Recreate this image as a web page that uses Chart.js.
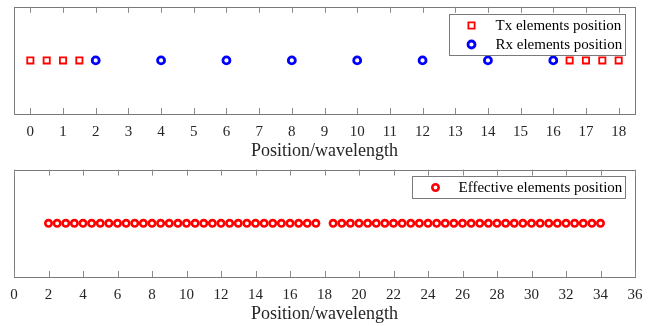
<!DOCTYPE html>
<html>
<head>
<meta charset="utf-8">
<script src="https://cdn.jsdelivr.net/npm/chart.js@4.4.1/dist/chart.umd.min.js"></script>
<style>
  body { margin: 0; background: #fff; }
  .panel { position: absolute; left: 0; width: 656px; height: 163px; }
</style>
</head>
<body>
<div class="panel" style="top:0"><canvas id="arrayChart" width="656" height="163"></canvas></div>
<div class="panel" style="top:163px"><canvas id="effChart" width="656" height="163"></canvas></div>
<script>
// element positions, in wavelengths
const txPos = [0, 0.5, 1, 1.5, 16.5, 17, 17.5, 18];
const rxPos = [2, 4, 6, 8, 10, 12, 14, 16];
const effPos = [2, 2.5, 3, 3.5, 4, 4.5, 5, 5.5, 6, 6.5, 7, 7.5, 8, 8.5, 9, 9.5,
  10, 10.5, 11, 11.5, 12, 12.5, 13, 13.5, 14, 14.5, 15, 15.5, 16, 16.5, 17, 17.5,
  18.5, 19, 19.5, 20, 20.5, 21, 21.5, 22, 22.5, 23, 23.5, 24, 24.5, 25, 25.5,
  26, 26.5, 27, 27.5, 28, 28.5, 29, 29.5, 30, 30.5, 31, 31.5, 32, 32.5, 33, 33.5, 34];
const topTicks = [0, 1, 2, 3, 4, 5, 6, 7, 8, 9, 10, 11, 12, 13, 14, 15, 16, 17, 18];
const bottomTicks = [0, 2, 4, 6, 8, 10, 12, 14, 16, 18, 20, 22, 24, 26, 28, 30, 32, 34, 36];
const xTitle = 'Position/wavelength';

const SERIF = '"Liberation Serif", "Times New Roman", serif';
const TXT = '#262626';

// matlab-like frame, inward ticks and boxed legend
const axesBox = {
  id: 'axesBox',
  afterDatasetsDraw(chart) {
    const ctx = chart.ctx;
    const a = chart.chartArea;
    const xs = chart.scales.x;
    ctx.save();
    ctx.strokeStyle = '#7a7a7a';
    ctx.lineWidth = 1;
    ctx.strokeRect(Math.round(a.left) + 0.5, Math.round(a.top) + 0.5,
      Math.round(a.right - a.left), Math.round(a.bottom - a.top));
    ctx.strokeStyle = '#8a8a8a';
    ctx.beginPath();
    xs.ticks.forEach(t => {
      const px = Math.round(xs.getPixelForValue(t.value)) + 0.5;
      ctx.moveTo(px, a.top); ctx.lineTo(px, a.top + 6);
      ctx.moveTo(px, a.bottom); ctx.lineTo(px, a.bottom - 6);
    });
    ctx.stroke();

    // legend
    const lg = chart.options.plugins.boxLegend;
    const rows = chart.data.datasets;
    const w = lg.width, rowH = lg.rowH;
    const h = rowH * rows.length + lg.pad;
    const x0 = Math.round(a.right - lg.right - w) + 0.5;
    const y0 = Math.round(a.top + lg.top) + 0.5;
    ctx.fillStyle = '#fff';
    ctx.fillRect(x0, y0, w, h);
    ctx.strokeStyle = '#7a7a7a';
    ctx.strokeRect(x0, y0, w, h);
    ctx.font = '15px ' + SERIF;
    ctx.textBaseline = 'middle';
    ctx.textAlign = 'left';
    rows.forEach((ds, i) => {
      const cy = y0 + lg.pad / 2 + rowH * (i + 0.5);
      const mx = x0 + lg.markX;
      ctx.strokeStyle = ds.borderColor;
      ctx.lineWidth = ds.borderWidth;
      ctx.beginPath();
      if (ds.pointStyle === 'rect') {
        const s = ds.pointRadius * Math.SQRT1_2;
        ctx.rect(mx - s, cy - s, 2 * s, 2 * s);
      } else {
        ctx.arc(mx, cy, ds.pointRadius, 0, Math.PI * 2);
      }
      ctx.stroke();
      ctx.fillStyle = '#000';
      ctx.fillText(ds.label, x0 + lg.textX, cy + 1);
    });
    ctx.restore();
  }
};

function makeChart(id, datasets, xmin, xmax, ticks, legendOpts) {
  return new Chart(document.getElementById(id), {
    type: 'scatter',
    data: { datasets: datasets },
    options: {
      responsive: false,
      animation: false,
      layout: { padding: { left: 14, right: 21, top: 6, bottom: 0 } },
      plugins: {
        legend: { display: false },
        tooltip: { enabled: false },
        boxLegend: legendOpts
      },
      scales: {
        y: { display: false, min: -1, max: 1 },
        x: {
          type: 'linear',
          min: xmin,
          max: xmax,
          afterBuildTicks: s => { s.ticks = ticks.map(v => ({ value: v })); },
          afterFit: s => { s.height = 49; },
          grid: { drawOnChartArea: false, drawTicks: false },
          border: { display: false },
          ticks: {
            padding: 9,
            color: TXT,
            maxRotation: 0,
            autoSkip: false,
            font: { family: SERIF, size: 15 }
          },
          title: {
            display: true,
            text: xTitle,
            color: TXT,
            padding: { top: 0, bottom: 1 },
            font: { family: SERIF, size: 18 }
          }
        }
      }
    },
    plugins: [axesBox]
  });
}

const pts = arr => arr.map(v => ({ x: v, y: 0 }));

makeChart('arrayChart', [
  {
    label: 'Tx elements position',
    data: pts(txPos),
    pointStyle: 'rect',
    pointRadius: 4.4,
    borderWidth: 1.8,
    borderColor: '#ff0000',
    backgroundColor: 'rgba(0,0,0,0)'
  },
  {
    label: 'Rx elements position',
    data: pts(rxPos),
    pointStyle: 'circle',
    pointRadius: 3.5,
    borderWidth: 2.8,
    borderColor: '#0000ff',
    backgroundColor: 'rgba(0,0,0,0)'
  }
], -0.5, 18.5, topTicks, { width: 176, rowH: 19, pad: 3, right: 10, top: 7, markX: 22, textX: 46 });

makeChart('effChart', [
  {
    label: 'Effective elements position',
    data: pts(effPos),
    pointStyle: 'circle',
    pointRadius: 3.2,
    borderWidth: 2.6,
    borderColor: '#ff0000',
    backgroundColor: 'rgba(0,0,0,0)'
  }
], 0, 36, bottomTicks, { width: 213, rowH: 20, pad: 2, right: 10, top: 6, markX: 23, textX: 46 });
</script>
</body>
</html>
